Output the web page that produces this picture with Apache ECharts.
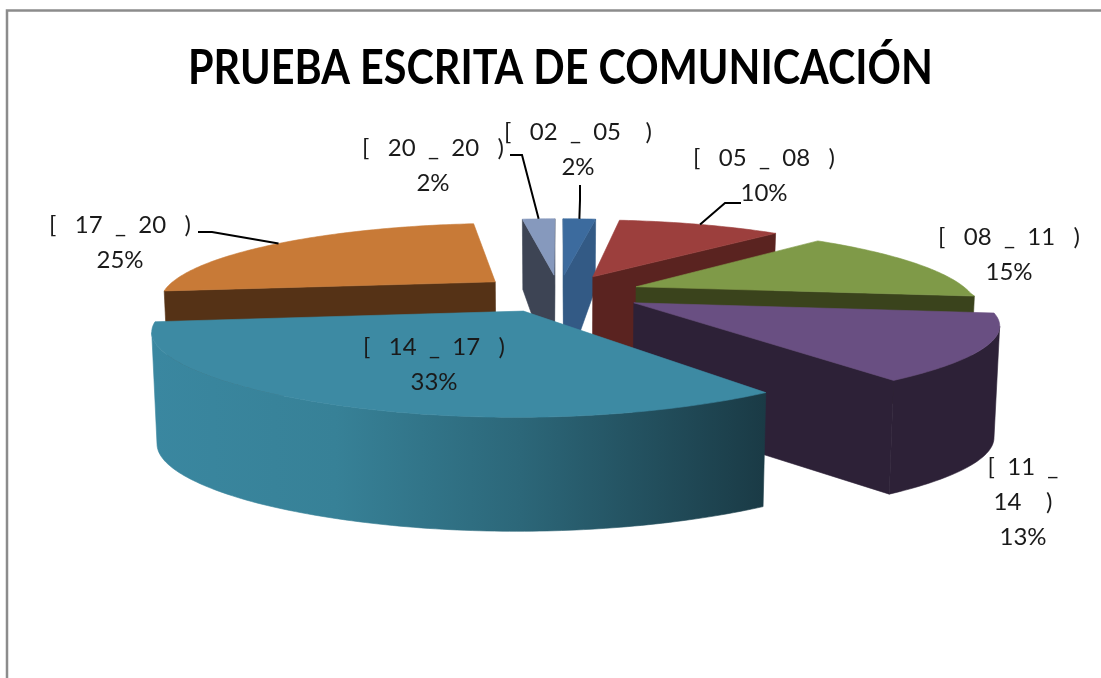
<!DOCTYPE html>
<html>
<head>
<meta charset="utf-8">
<title>Prueba escrita de comunicación</title>
<style>
  html, body { margin: 0; padding: 0; background: #fff; }
  #chart { width: 1101px; height: 678px; }
</style>
<script src="https://cdn.jsdelivr.net/npm/echarts@6/dist/echarts.min.js"></script>
</head>
<body>
<div id="chart"></div>
<script>
const chartTitle = 'PRUEBA ESCRITA DE COMUNICACIÓN'
const categories = ['[   02  _  05    )', '[   05  _  08   )', '[   08  _  11   )', '[  11  _\n14    )', '[   14  _  17   )', '[   17  _  20   )', '[   20  _  20   )']
const shares = [2, 10, 15, 13, 33, 25, 2]

const topColors = ['#3c6b9e', '#9c3f3d', '#7f9a48', '#694f82', '#3d8aa3', '#c87a37', '#8699bd']
const wallColors = ['#335a85', '#5a2320', '#3a431c', '#2d2137', null, '#553216', '#3d4454']
const drawOrder = [5, 6, 0, 1, 2, 3, 4]

// pie projection
const cx = 559
const cy = 293
const rx = 334
const ry = 75
const perspY = 0.21
const explode = 0.25

const total = shares.reduce((a, b) => a + b, 0)
const starts = []
shares.reduce((acc, v, i) => { starts[i] = acc; return acc + v }, 0)

function toRad(pct) {
  return pct / total * Math.PI * 2
}

// horizontal scale by depth, y > 0 is the back of the pie
function depthX(y) {
  if (y > 0) return 1 / (1 + 0.23 * y)
  return 1 - 0.33 * y - 0.07 * y * y
}

function project(x, y, low) {
  const sx = rx * x * depthX(y)
  const sy = -ry * y / (1 + perspY * y)
  if (!low) return [cx + sx, cy + sy]
  const h = y > 0 ? 110 - 32 * y : 110 + 4 * Math.min(1, -y)
  return [cx + sx * 0.987, cy + sy + h]
}

function rimPoint(i, a, r, low) {
  const mid = toRad(starts[i] + shares[i] / 2)
  const x = explode * Math.sin(mid) + r * Math.sin(a)
  const y = explode * Math.cos(mid) + r * Math.cos(a)
  return project(x, y, low)
}

function area(pts) {
  let s = 0
  pts.forEach((p, n) => {
    const q = pts[(n + 1) % pts.length]
    s += p[0] * q[1] - q[0] * p[1]
  })
  return s / 2
}

function poly(points, fill, z2) {
  return {
    type: 'polygon',
    z2: z2,
    shape: { points: points },
    style: { fill: fill, stroke: fill, lineWidth: 0.6 }
  }
}

function wallFill(i) {
  if (wallColors[i]) return wallColors[i]
  return new echarts.graphic.LinearGradient(0, 0, 1, 0, [
    { offset: 0, color: '#3a87a0' },
    { offset: 0.3, color: '#378197' },
    { offset: 0.6, color: '#2c6779' },
    { offset: 1, color: '#1a3a45' }
  ])
}

function renderSlice(params, api) {
  const i = api.value(0)
  const a0 = toRad(starts[i])
  const a1 = toRad(starts[i] + api.value(1))
  const n = Math.max(4, Math.round((a1 - a0) / Math.PI * 180))
  const top = []
  const low = []
  for (let k = 0; k <= n; k++) {
    const a = a0 + (a1 - a0) * k / n
    top.push(rimPoint(i, a, 1, false))
    low.push(rimPoint(i, a, 1, true))
  }
  const apex = rimPoint(i, 0, 0, false)
  const apexLow = rimPoint(i, 0, 0, true)
  const z = drawOrder.indexOf(i) * 10
  const children = []

  // radial walls, only the ones facing the viewer
  const faceA = [apex, top[0], low[0], apexLow]
  const faceB = [apex, apexLow, low[n], top[n]]
  if (area(faceA) < 0) children.push(poly(faceA, wallColors[i] || '#2c6779', z))
  if (area(faceB) < 0) children.push(poly(faceB, wallColors[i] || '#2c6779', z))

  // outer wall
  const front = []
  for (let k = 0; k < n; k++) {
    if (area([top[k], top[k + 1], low[k + 1], low[k]]) < 0) front.push(k)
  }
  if (front.length) {
    const from = front[0]
    const to = front[front.length - 1] + 1
    const pts = top.slice(from, to + 1).concat(low.slice(from, to + 1).reverse())
    children.push(poly(pts, wallFill(i), z + 1))
  }

  children.push(poly([apex].concat(top), topColors[i], z + 2))
  return { type: 'group', children: children }
}

// leader line from a label to the middle of the slice rim
const leaders = [
  { slice: 6, from: [510, 155], elbow: [522, 155] },
  { slice: 0, from: [580, 185], elbow: [580, 200] },
  { slice: 1, from: [741, 203], elbow: [725, 203] },
  { slice: 5, from: [198, 232], elbow: [212, 232] }
]

const labelPlaces = [
  [578, 150], [764, 176], [1009, 255], [1023, 502], [434, 365], [120, 243], [433, 166]
]

const graphics = [
  {
    type: 'polyline',
    silent: true,
    shape: { points: [[7, 678], [7, 10.5], [1101, 10.5]] },
    style: { stroke: '#8c8c8c', lineWidth: 2.5, fill: null }
  },
  {
    type: 'text',
    x: 188,
    y: 45,
    scaleX: 0.88,
    style: { text: chartTitle, font: 'bold 47px Lato', fill: '#000' }
  }
]

leaders.forEach(l => {
  const mid = toRad(starts[l.slice] + shares[l.slice] / 2)
  graphics.push({
    type: 'polyline',
    silent: true,
    z: 5,
    shape: { points: [l.from, l.elbow, rimPoint(l.slice, mid, 1, false)] },
    style: { stroke: '#000', lineWidth: 2, fill: null }
  })
})

categories.forEach((c, i) => {
  graphics.push({
    type: 'text',
    silent: true,
    z: 6,
    x: labelPlaces[i][0],
    y: labelPlaces[i][1],
    style: {
      text: c + '\n' + shares[i] + '%',
      font: '24px Lato',
      lineHeight: 35,
      fill: '#1a1a1a',
      align: 'center',
      verticalAlign: 'middle'
    }
  })
})

const myChart = echarts.init(document.getElementById('chart'), null, { renderer: 'canvas' })
myChart.setOption({
  backgroundColor: '#fff',
  animation: false,
  graphic: graphics,
  series: [
    {
      type: 'custom',
      coordinateSystem: 'none',
      data: shares.map((v, i) => [i, v]),
      renderItem: renderSlice,
      silent: true
    }
  ]
})
</script>
</body>
</html>
